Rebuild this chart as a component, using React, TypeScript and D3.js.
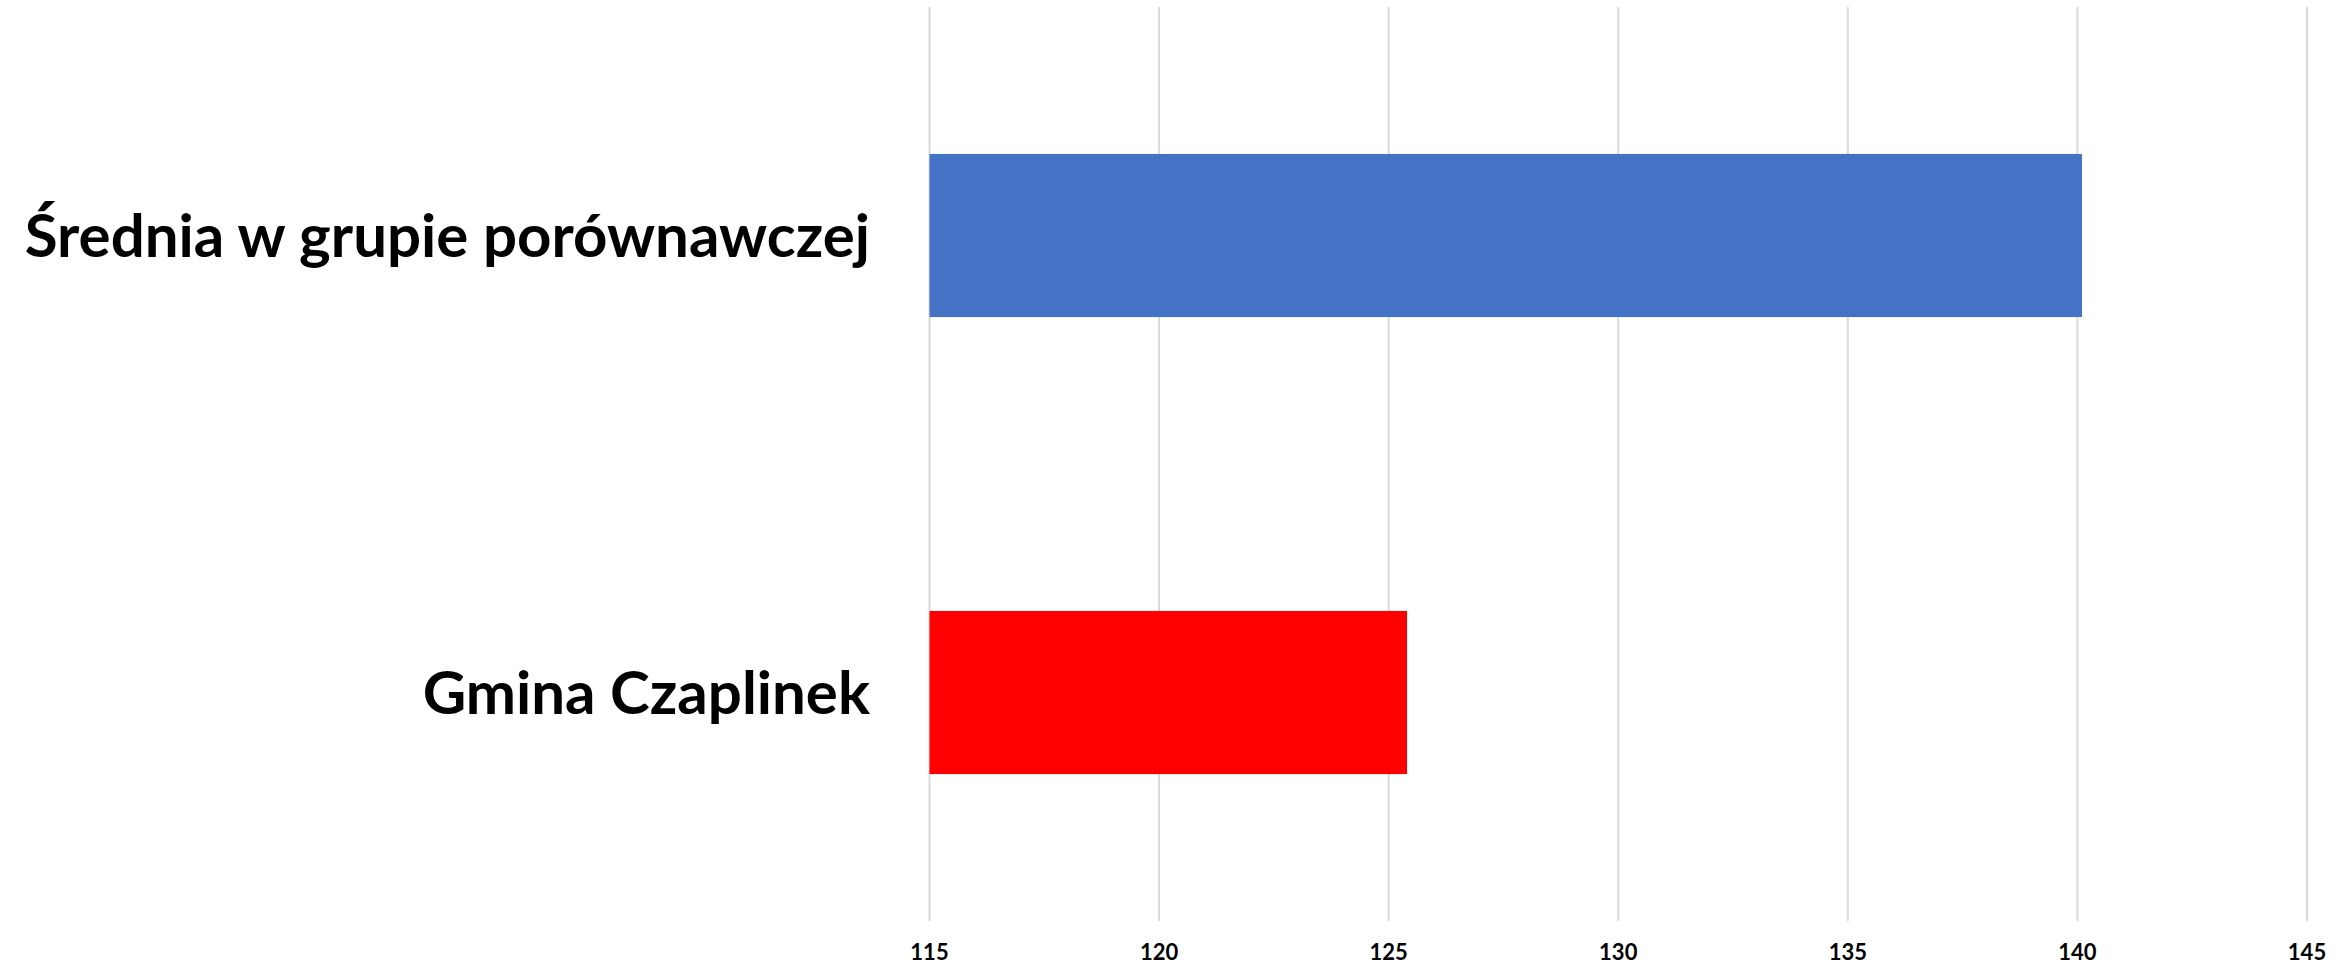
import React from "react";
import * as d3 from "d3";

const categories = ["Średnia w grupie porównawczej", "Gmina Czaplinek"];
const values = [140.1, 125.4];
const barColors = ["#4472C4", "#FF0000"];
const tickValues = [115, 120, 125, 130, 135, 140, 145];

const W = 2352;
const H = 965;
const margin = { left: 929.5, right: 45, top: 7, bottom: 44 };

export default function App() {
  const x = d3
    .scaleLinear()
    .domain([115, 145])
    .range([margin.left, 2307]);
  const y = d3
    .scaleBand<string>()
    .domain(categories)
    .range([margin.top, H - margin.bottom])
    .paddingInner(0.643)
    .paddingOuter(0.3215);

  const font = "Lato, 'Open Sans', sans-serif";

  return (
    <svg
      width={W}
      height={H}
      style={{ position: "absolute", left: 0, top: 0, background: "#fff" }}
    >
      <rect x={0} y={0} width={W} height={H} fill="#fff" />
      {tickValues.map((t) => (
        <line
          key={t}
          x1={x(t)}
          x2={x(t)}
          y1={margin.top}
          y2={H - margin.bottom}
          stroke="#d9d9d9"
          strokeWidth={2}
        />
      ))}
      {categories.map((c, i) => (
        <rect
          key={c}
          x={x(115)}
          y={y(c)!}
          width={x(values[i]) - x(115)}
          height={y.bandwidth()}
          fill={barColors[i]}
        />
      ))}
      {categories.map((c) => (
        <text
          key={c}
          x={870}
          y={y(c)! + y.bandwidth() / 2}
          dy="0.35em"
          textAnchor="end"
          fontFamily={font}
          fontWeight="bold"
          fontSize={60}
          fill="#000"
        >
          {c}
        </text>
      ))}
      {tickValues.map((t) => (
        <text
          key={t}
          x={x(t)}
          y={960}
          textAnchor="middle"
          fontFamily={font}
          fontWeight="bold"
          fontSize={22}
          fill="#000"
        >
          {t}
        </text>
      ))}
    </svg>
  );
}
